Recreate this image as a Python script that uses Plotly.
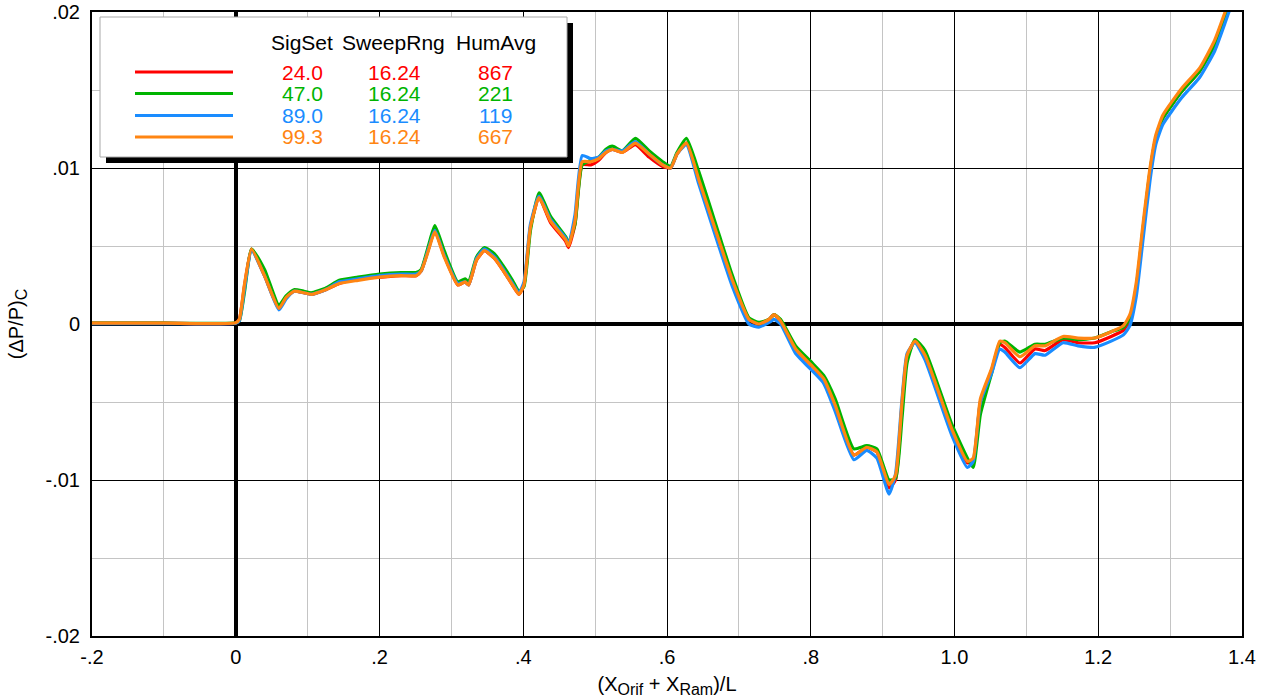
import plotly.graph_objects as go

# Shared abscissa (X_Orif + X_Ram)/L
x_pos = [-0.2, -0.1, 0.0, 0.005, 0.012, 0.022, 0.04, 0.06, 0.07, 0.081,
         0.095, 0.105, 0.125, 0.144, 0.17, 0.2, 0.23, 0.251, 0.258, 0.268,
         0.277, 0.29, 0.309, 0.319, 0.324, 0.335, 0.346, 0.36, 0.371, 0.385,
         0.394, 0.401, 0.41, 0.422, 0.438, 0.459, 0.463, 0.472, 0.482, 0.494,
         0.505, 0.515, 0.524, 0.538, 0.556, 0.575, 0.594, 0.605, 0.614, 0.627,
         0.644, 0.672, 0.691, 0.714, 0.728, 0.742, 0.749, 0.758, 0.779, 0.80,
         0.818, 0.834, 0.86, 0.878, 0.892, 0.909, 0.918, 0.927, 0.934, 0.945,
         0.959, 0.996, 1.018, 1.026, 1.036, 1.052, 1.063, 1.070, 1.091, 1.112,
         1.126, 1.151, 1.172, 1.195, 1.218, 1.235, 1.244, 1.253, 1.2625, 1.272,
         1.28, 1.29, 1.316, 1.341, 1.362, 1.378, 1.39]

dp_red = [0.00005, 0.00005, 0.00007, 0.0003, 0.0024, 0.0048, 0.0031, 0.0010, 0.0017, 0.0021,
          0.0020, 0.0019, 0.0022, 0.0026, 0.0029, 0.0030, 0.0031, 0.0031, 0.0034, 0.0048,
          0.0060, 0.0044, 0.0025, 0.0027, 0.0025, 0.0041, 0.0047, 0.0042, 0.0035, 0.0025,
          0.0019, 0.0025, 0.0062, 0.0081, 0.0065, 0.0053, 0.0049, 0.0064, 0.0102, 0.0102,
          0.0105, 0.0110, 0.0112, 0.0110, 0.0115, 0.0107, 0.0101, 0.0100, 0.0109, 0.0116,
          0.0093, 0.0054, 0.0028, 0.0003, 0.0000, 0.0003, 0.0006, 0.0002, -0.0016, -0.0026,
          -0.0035, -0.0052, -0.0084, -0.0079, -0.0082, -0.0105, -0.0100, -0.0052, -0.0021, -0.0011,
          -0.0020, -0.0067, -0.0089, -0.0088, -0.0050, -0.0029, -0.0013, -0.0015, -0.0025, -0.0016,
          -0.0017, -0.0010, -0.0012, -0.0012, -0.0008, -0.0004, 0.0003, 0.0023, 0.0061, 0.0097,
          0.0119, 0.0132, 0.0149, 0.0162, 0.0179, 0.0199, 0.0215]

dp_green = [0.00005, 0.00005, 0.00008, 0.0002, 0.0020, 0.0048, 0.0035, 0.0012, 0.0018, 0.0022,
            0.0021, 0.0020, 0.0023, 0.0028, 0.0030, 0.0032, 0.0033, 0.0033, 0.0035, 0.0050,
            0.0063, 0.0047, 0.0027, 0.0029, 0.0027, 0.0043, 0.0049, 0.0045, 0.0038, 0.0028,
            0.0021, 0.0024, 0.0060, 0.0084, 0.0069, 0.0056, 0.0052, 0.0064, 0.0102, 0.0105,
            0.0107, 0.0112, 0.0114, 0.0111, 0.0119, 0.0111, 0.0104, 0.0101, 0.0110, 0.0119,
            0.0098, 0.0058, 0.0031, 0.0004, 0.0001, 0.0003, 0.0006, 0.0003, -0.0014, -0.0024,
            -0.0033, -0.0048, -0.0080, -0.0078, -0.0080, -0.0100, -0.0099, -0.0060, -0.0025, -0.0010,
            -0.0017, -0.0064, -0.0086, -0.0092, -0.0058, -0.0031, -0.0012, -0.0011, -0.0018, -0.0013,
            -0.0013, -0.0009, -0.0010, -0.0009, -0.0005, -0.0002, 0.0004, 0.0024, 0.0062, 0.0098,
            0.0119, 0.0132, 0.0149, 0.0162, 0.0179, 0.0199, 0.0215]

dp_blue = [0.00003, 0.00003, 0.00005, 0.0002, 0.0022, 0.0047, 0.0031, 0.0009, 0.0016, 0.0021,
           0.0020, 0.0019, 0.0022, 0.0027, 0.0029, 0.0031, 0.0032, 0.0032, 0.0034, 0.0048,
           0.0060, 0.0044, 0.0026, 0.0027, 0.0025, 0.0042, 0.0048, 0.0043, 0.0036, 0.0026,
           0.0020, 0.0027, 0.0064, 0.0082, 0.0067, 0.0055, 0.0051, 0.0070, 0.0108, 0.0106,
           0.0107, 0.0111, 0.0112, 0.0111, 0.0117, 0.0109, 0.0102, 0.0100, 0.0109, 0.0115,
           0.0090, 0.0050, 0.0024, 0.0000, -0.0002, 0.0001, 0.0003, 0.0000, -0.0019, -0.0029,
           -0.0038, -0.0056, -0.0087, -0.0081, -0.0086, -0.0109, -0.0096, -0.0048, -0.0019, -0.0012,
           -0.0023, -0.0071, -0.0092, -0.0088, -0.0050, -0.0031, -0.0016, -0.0018, -0.0028, -0.0019,
           -0.0020, -0.0012, -0.0014, -0.0015, -0.0011, -0.0007, -0.0001, 0.0018, 0.0055, 0.0092,
           0.0115, 0.0128, 0.0145, 0.0158, 0.0175, 0.0195, 0.0211]

dp_orange = [0.00005, 0.00005, 0.00008, 0.0003, 0.0025, 0.0048, 0.0031, 0.0010, 0.0017, 0.0021,
             0.0020, 0.0019, 0.0022, 0.0026, 0.0028, 0.0030, 0.0031, 0.0031, 0.0034, 0.0047,
             0.0059, 0.0043, 0.0025, 0.0027, 0.0025, 0.0041, 0.0047, 0.0042, 0.0035, 0.0025,
             0.0019, 0.0025, 0.0062, 0.0081, 0.0066, 0.0054, 0.0050, 0.0066, 0.0104, 0.0104,
             0.0106, 0.0110, 0.0112, 0.0110, 0.0116, 0.0109, 0.0102, 0.0100, 0.0109, 0.0116,
             0.0093, 0.0054, 0.0028, 0.0003, 0.0000, 0.0003, 0.0006, 0.0002, -0.0016, -0.0026,
             -0.0035, -0.0052, -0.0084, -0.0079, -0.0082, -0.0103, -0.0097, -0.0050, -0.0020, -0.0011,
             -0.0020, -0.0067, -0.0088, -0.0086, -0.0048, -0.0028, -0.0011, -0.0012, -0.0021, -0.0014,
             -0.0014, -0.0008, -0.0009, -0.0009, -0.0005, -0.0001, 0.0006, 0.0027, 0.0065, 0.0100,
             0.0121, 0.0134, 0.0151, 0.0164, 0.0182, 0.0202, 0.0218]

series_colors = ["#ff0000", "#00b400", "#1a8cff", "#ff8512"]
series_values = [dp_red, dp_green, dp_blue, dp_orange]

# Legend table contents
sigset = ["24.0", "47.0", "89.0", "99.3"]
sweeprng = ["16.24", "16.24", "16.24", "16.24"]
humavg = ["867", "221", "119", "667"]
legend_headers = ["SigSet", "SweepRng", "HumAvg"]

# Axis ticks
x_tickvals = [-0.2, 0.0, 0.2, 0.4, 0.6, 0.8, 1.0, 1.2, 1.4]
x_ticktext = ["-.2", "0", ".2", ".4", ".6", ".8", "1.0", "1.2", "1.4"]
y_tickvals = [-0.02, -0.01, 0.0, 0.01, 0.02]
y_ticktext = ["-.02", "-.01", "0", ".01", ".02"]

FONT = "Liberation Sans, Arial, Helvetica, sans-serif"
W, H = 1268, 698
ML, MR, MT, MB = 92, 26, 12, 62

fig = go.Figure()
for ys, col in zip(series_values, series_colors):
    fig.add_trace(go.Scatter(x=x_pos, y=ys, mode="lines",
                             line=dict(color=col, width=3.2, shape="spline", smoothing=0.5),
                             showlegend=False, hoverinfo="skip"))

axis_common = dict(showline=True, linecolor="black", linewidth=2, mirror=True,
                   gridcolor="black", gridwidth=1.3, automargin=False,
                   zeroline=True, zerolinecolor="black", zerolinewidth=3.5,
                   ticks="", tickfont=dict(family=FONT, size=20, color="black"))


def sub(txt):
    return "<sub><span style='font-size:16px'>" + txt + "</span></sub>"


fig.update_xaxes(range=[-0.2, 1.4], tickvals=x_tickvals, ticktext=x_ticktext,
                 minor=dict(dtick=0.1, tick0=-0.2, showgrid=True, gridcolor="#c4c4c4", gridwidth=1.3),
                 title=dict(text="(X" + sub("Orif") + " + X" + sub("Ram") + ")/L",
                            font=dict(family=FONT, size=20, color="black"), standoff=10),
                 ticklabelstandoff=2,
                 **axis_common)
fig.update_yaxes(range=[-0.02, 0.02], tickvals=y_tickvals, ticktext=y_ticktext,
                 minor=dict(dtick=0.005, tick0=-0.02, showgrid=True, gridcolor="#c4c4c4", gridwidth=1.3),
                 title=dict(text="(\u0394P/P)" + sub("C"),
                            font=dict(family=FONT, size=20, color="black"), standoff=17),
                 ticklabelstandoff=6,
                 **axis_common)


def px(xp):
    return (xp - ML) / (W - ML - MR)


def py(yp):
    return 1 - (yp - MT) / (H - MT - MB)


shapes = []
annotations = []
# legend box with drop shadow
shapes.append(dict(type="rect", xref="paper", yref="paper",
                   x0=px(106), x1=px(573), y0=py(163), y1=py(23),
                   fillcolor="black", line=dict(width=0), layer="above"))
shapes.append(dict(type="rect", xref="paper", yref="paper",
                   x0=px(100), x1=px(567), y0=py(157), y1=py(17),
                   fillcolor="white", line=dict(color="#a8a8a8", width=1), layer="above"))

header_x = [302, 393, 496]
for hx, txt in zip(header_x, legend_headers):
    annotations.append(dict(xref="paper", yref="paper", x=px(hx), y=py(42), text=txt,
                            showarrow=False, xanchor="center", yanchor="middle",
                            font=dict(family=FONT, size=21, color="black")))

row_y = [72, 93.5, 115.5, 137]
for i, col in enumerate(series_colors):
    shapes.append(dict(type="line", xref="paper", yref="paper",
                       x0=px(135), x1=px(233), y0=py(row_y[i]), y1=py(row_y[i]),
                       line=dict(color=col, width=3), layer="above"))
    for cx, txt in zip([302, 394, 495], [sigset[i], sweeprng[i], humavg[i]]):
        annotations.append(dict(xref="paper", yref="paper", x=px(cx), y=py(row_y[i]), text=txt,
                                showarrow=False, xanchor="center", yanchor="middle",
                                font=dict(family=FONT, size=21, color=col)))

fig.update_layout(width=W, height=H, margin=dict(l=ML, r=MR, t=MT, b=MB),
                  plot_bgcolor="white", paper_bgcolor="white",
                  shapes=shapes, annotations=annotations)

fig.write_html("out.html")
